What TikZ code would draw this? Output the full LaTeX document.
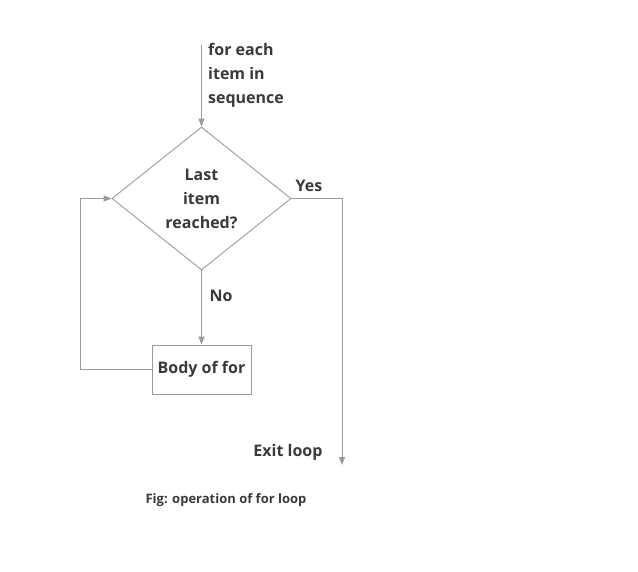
\documentclass[tikz,border=0pt]{standalone}
\usepackage{fontspec}
\setmainfont{Open Sans}
\usetikzlibrary{shapes.geometric,arrows.meta}
\definecolor{linegray}{HTML}{9A9A9A}
\definecolor{txtgray}{HTML}{3A3A3A}
\begin{document}
\begin{tikzpicture}[x=1pt,y=-1pt,
  lbl/.style={font=\fontsize{16}{24}\selectfont\bfseries, text=txtgray, inner sep=0pt},
  conn/.style={draw=linegray, line width=1pt},
  arr/.style={conn, -{Triangle[length=8pt,width=6pt]}},
  decision/.style={diamond, draw=linegray, line width=0.9pt, minimum width=179pt, minimum height=143pt, inner sep=0pt, aspect=1.25, align=center, lbl},
  process/.style={rectangle, draw=linegray, line width=0.9pt, minimum width=99pt, minimum height=49pt, inner sep=0pt, lbl}
]
\useasboundingbox (0,0) rectangle (638,571);
\fill[white] (0,0) rectangle (638,571);
\node[decision] (dec) at (201.5,198.5) {Last\\item\\reached?};
\node[process] (body) at (201.5,369.5) {Body of for};
\coordinate (start) at (201.5,45);
\coordinate (lc1) at (80,369.5);
\coordinate (lc2) at (80,198.5);
\coordinate (rc1) at (342,198.5);
\coordinate (rend) at (342,465);
\node[lbl, anchor=west, align=left] (intext) at (208,75) {for each\\item in\\sequence};
\node[lbl] (yes) at (309,186) {Yes};
\node[lbl] (no) at (221,296) {No};
\node[lbl] (exit) at (288,452) {Exit loop};
\node[font=\fontsize{13}{15}\selectfont\bfseries, text=txtgray, inner sep=0pt] (cap) at (226,500) {Fig: operation of for loop};
\draw[arr] (start) -- (dec.north);
\draw[arr] (dec.south) -- (body.north);
\draw[arr] (body.west) -- (lc1) -- (lc2) -- (dec.west);
\draw[arr] (dec.east) -- (rc1) -- (rend);
\end{tikzpicture}
\end{document}
